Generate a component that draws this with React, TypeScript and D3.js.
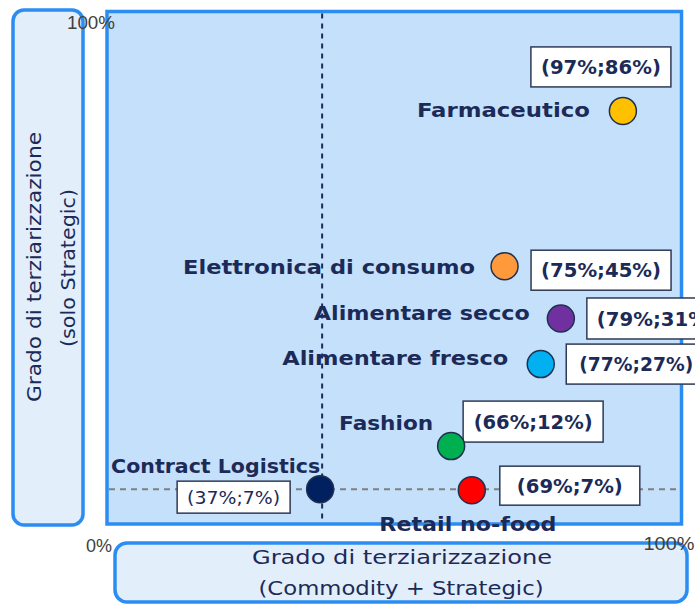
import React from "react";
import * as d3 from "d3";

// ---- Data (positions, in % of each axis) ----
const sectors = [
  "Farmaceutico",
  "Elettronica di consumo",
  "Alimentare secco",
  "Alimentare fresco",
  "Fashion",
  "Contract Logistics",
  "Retail no-food",
];
const xValues = [89.8, 69.2, 79.0, 75.5, 59.9, 37.1, 63.5];
const yValues = [80.6, 50.3, 40.1, 31.2, 15.2, 6.8, 6.6];
const valueLabels = [
  "(97%;86%)",
  "(75%;45%)",
  "(79%;31%)",
  "(77%;27%)",
  "(66%;12%)",
  "(37%;7%)",
  "(69%;7%)",
];
const colors = ["#FFC000", "#FF9A3C", "#7030A0", "#00B0F0", "#00B050", "#002060", "#FF0000"];
const axisTicks = ["0%", "100%"];
const xTitle = ["Grado di terziarizzazione", "(Commodity + Strategic)"];
const yTitle = ["Grado di terziarizzazione", "(solo Strategic)"];
const refIndex = 5; // Contract Logistics defines the dashed reference lines

// ---- Layout (styles/offsets, not data) ----
type Lay = {
  nx: number; ny: number; anchor: "start" | "middle" | "end"; nw: number;
  bx: number; by: number; bw: number; bh: number; tw: number; bold: boolean; fs: number;
};
const LAYOUT: Lay[] = [
  { nx: -33, ny: -1, anchor: "end", nw: 173, bx: -92, by: -64, bw: 140, bh: 40, tw: 120, bold: true, fs: 20 },
  { nx: -29.5, ny: 1, anchor: "end", nw: 292, bx: 26.5, by: -16, bw: 140, bh: 40, tw: 120, bold: true, fs: 20 },
  { nx: -31, ny: -5.5, anchor: "end", nw: 216, bx: 26, by: -20.5, bw: 140, bh: 41, tw: 120, bold: true, fs: 20 },
  { nx: -32.5, ny: -6, anchor: "end", nw: 226, bx: 25.5, by: -20, bw: 140, bh: 40, tw: 114, bold: true, fs: 20 },
  { nx: -18, ny: -23, anchor: "end", nw: 94, bx: 12, by: -45, bw: 140, bh: 41, tw: 119, bold: true, fs: 20 },
  { nx: 0, ny: -23, anchor: "end", nw: 209, bx: -143, by: -8, bw: 113, bh: 32, tw: 93, bold: false, fs: 18 },
  { nx: -4, ny: 34, anchor: "middle", nw: 177, bx: 28, by: -24, bw: 140, bh: 39, tw: 106, bold: true, fs: 19 },
];

const W = 695;
const H = 606;
const PL = 107, PR = 681.5, PT = 11.5, PB = 524;
const BLUE = "#2B8DF2";
const NAVY = "#1C2A58";
const FONT = "'DejaVu Sans', Verdana, sans-serif";

export default function App() {
  const x = d3.scaleLinear().domain([0, 100]).range([PL, PR]);
  const y = d3.scaleLinear().domain([0, 100]).range([PB, PT]);
  const refX = x(xValues[refIndex]);
  const refY = y(yValues[refIndex]);

  return (
    <svg
      width={W}
      height={H}
      style={{ position: "fixed", left: 0, top: 0, background: "#fff" }}
      fontFamily={FONT}
    >
      {/* Y title box */}
      <rect x={13} y={10} width={70} height={515} rx={11} fill="#E3EEFB" stroke={BLUE} strokeWidth={3.5} />
      {/* X title box */}
      <rect x={115} y={543} width={572} height={59} rx={12} fill="#E3EEFB" stroke={BLUE} strokeWidth={3.5} />
      {/* Plot area */}
      <rect x={PL} y={PT} width={PR - PL} height={PB - PT} fill="#C5E0FB" stroke={BLUE} strokeWidth={3.5} />

      {/* Reference dashed lines */}
      <line x1={PL + 2} x2={PR - 2} y1={refY} y2={refY} stroke="#7F7F7F" strokeWidth={2} strokeDasharray="6,5" />
      <line x1={refX + 2} x2={refX + 2} y1={PT + 2} y2={PB - 2} stroke={NAVY} strokeWidth={2} strokeDasharray="5,5" />

      {/* Points, names, value boxes */}
      {sectors.map((name, i) => {
        const cx = x(xValues[i]);
        const cy = y(yValues[i]);
        const L = LAYOUT[i];
        return (
          <g key={name}>
            <rect
              x={cx + L.bx}
              y={cy + L.by}
              width={L.bw}
              height={L.bh}
              fill="#fff"
              stroke="#2F3A55"
              strokeWidth={1.5}
            />
            <text
              x={cx + L.bx + L.bw / 2}
              y={cy + L.by + L.bh / 2}
              dy="0.36em"
              textAnchor="middle"
              fontSize={L.fs}
              fontWeight={L.bold ? "bold" : "normal"}
              fill={NAVY}
              textLength={L.tw}
              lengthAdjust="spacingAndGlyphs"
            >
              {valueLabels[i]}
            </text>
            <circle cx={cx} cy={cy} r={13.5} fill={colors[i]} stroke="#1F3050" strokeWidth={1.5} />
            <text
              x={cx + L.nx}
              y={cy + L.ny}
              dy="0.36em"
              textAnchor={L.anchor}
              fontSize={20}
              fontWeight="bold"
              fill={NAVY}
              textLength={L.nw}
              lengthAdjust="spacingAndGlyphs"
            >
              {name}
            </text>
          </g>
        );
      })}

      {/* Axis tick labels */}
      <text x={x(0) - 21} y={552} fontSize={18} fill="#404040" fontFamily="'Liberation Sans', Arial, sans-serif" textLength={26} lengthAdjust="spacingAndGlyphs">
        {axisTicks[0]}
      </text>
      <text x={x(0) - 40} y={29} fontSize={18} fill="#404040" fontFamily="'Liberation Sans', Arial, sans-serif" textLength={48} lengthAdjust="spacingAndGlyphs">
        {axisTicks[1]}
      </text>
      <text x={x(100) - 38} y={550} fontSize={18} fill="#404040" fontFamily="'Liberation Sans', Arial, sans-serif" textLength={51} lengthAdjust="spacingAndGlyphs">
        {axisTicks[1]}
      </text>

      {/* X axis title */}
      <text x={402} y={564} textAnchor="middle" fontSize={20} fill={NAVY} textLength={300} lengthAdjust="spacingAndGlyphs">
        {xTitle[0]}
      </text>
      <text x={401} y={595} textAnchor="middle" fontSize={20} fill={NAVY} textLength={285} lengthAdjust="spacingAndGlyphs">
        {xTitle[1]}
      </text>

      {/* Y axis title */}
      <text transform="translate(41,267) rotate(-90)" textAnchor="middle" fontSize={19} fill={NAVY} textLength={270} lengthAdjust="spacingAndGlyphs">
        {yTitle[0]}
      </text>
      <text transform="translate(75,268) rotate(-90)" textAnchor="middle" fontSize={19} fill={NAVY} textLength={158} lengthAdjust="spacingAndGlyphs">
        {yTitle[1]}
      </text>
    </svg>
  );
}
